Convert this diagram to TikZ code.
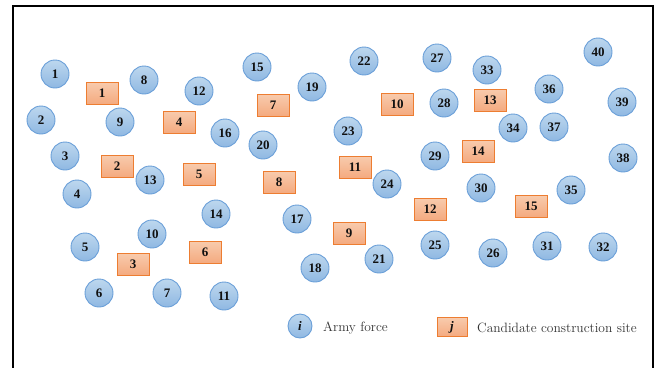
\documentclass[tikz,border=0pt]{standalone}
\usepackage{fontspec}
\setmainfont{Liberation Serif}
\newfontfamily\lmfont{Latin Modern Roman}
\usetikzlibrary{shadings}
\definecolor{cfillA}{HTML}{BDD7EE}
\definecolor{cfillB}{HTML}{8FB8E2}
\definecolor{cline}{HTML}{6A9FD8}
\definecolor{rfillA}{HTML}{F8CBAD}
\definecolor{rfillB}{HTML}{F4AA80}
\definecolor{rline}{HTML}{ED7D31}
\definecolor{txt}{HTML}{111111}
\tikzset{
  army/.style={circle, draw=cline, line width=0.9pt, top color=cfillA, bottom color=cfillB,
     minimum size=28pt, inner sep=0pt, font=\fontsize{13}{15}\selectfont\bfseries, text=txt},
  site/.style={rectangle, draw=rline, line width=0.9pt, top color=rfillA, bottom color=rfillB,
     minimum width=32pt, minimum height=22pt, inner sep=0pt, font=\fontsize{13}{15}\selectfont\bfseries, text=txt},
  legtext/.style={anchor=west, inner sep=0pt, font=\lmfont\fontsize{13.5}{15}\selectfont, text=black!80}
}
\begin{document}
\begin{tikzpicture}[x=1pt,y=-1pt]
\useasboundingbox (0,0) rectangle (660,367);
\coordinate (fbl) at (13,367);
\coordinate (ftl) at (13,6);
\coordinate (ftr) at (653,6);
\coordinate (fbr) at (653,367);
\draw[line width=2pt, line cap=rect] (fbl) -- (ftl) -- (ftr) -- (fbr);
% army forces
\foreach \n/\x/\y in {1/55/74, 2/41/120, 3/65/156, 4/77/194, 5/85/247, 6/99/293, 7/167/293,
  8/144/80, 9/120/122, 10/152/234, 11/224/296, 12/199/91, 13/150/180, 14/216/214,
  15/257/67, 16/225/133, 17/297/219, 18/315/268, 19/312/87, 20/263/145, 21/379/259,
  22/364/61, 23/348/131, 24/387/184, 25/435/245, 26/493/253, 27/437/58, 28/444/103,
  29/435/156, 30/481/188, 31/547/246, 32/603/247, 33/487/70, 34/513/128, 35/571/190,
  36/549/89, 37/554/127, 38/623/158, 39/622/102, 40/598/52}
  \node[army] (a\n) at (\x,\y) {\n};
% candidate sites
\foreach \n/\x/\y in {1/102/93, 2/117/166, 3/133/264, 4/179/122, 5/199/174, 6/205/252,
  7/273/105, 8/279/182, 9/349/233, 10/397/104, 11/355/167, 12/430/209, 13/490/100,
  14/478/151, 15/531/206}
  \node[site] (s\n) at (\x,\y) {\n};
% legend
\node[army, minimum size=24pt] (li) at (300,326) {\textit{i}};
\node[legtext] (lit) at (323,328) {Army force};
\node[site, minimum width=30pt, minimum height=19pt] (lj) at (452,327) {\textit{j}};
\node[legtext] (ljt) at (477,328) {Candidate construction site};
\end{tikzpicture}
\end{document}
